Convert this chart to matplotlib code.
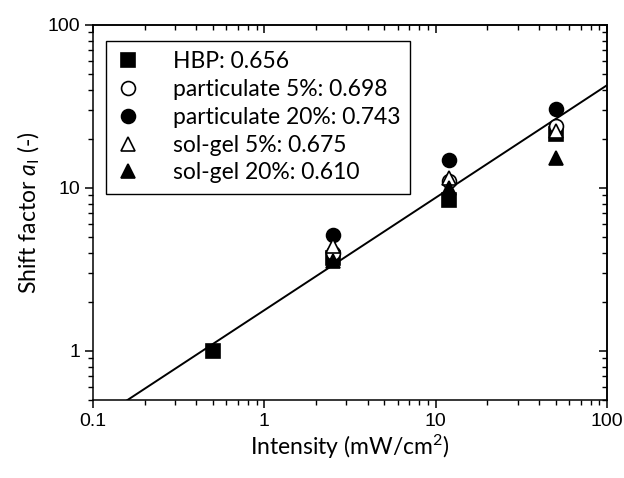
import matplotlib
matplotlib.use("Agg")
import matplotlib.pyplot as plt
import numpy as np

# ---- data ----
intensity = [0.5, 2.5, 12, 50]
hbp = [1.0, 3.7, 8.4, 21.4]
part5 = [None, 4.0, 11.0, 24.0]
part20 = [None, 5.15, 14.9, 30.4]
solgel5 = [None, 4.4, 11.5, 22.4]
solgel20 = [None, 3.57, 10.0, 15.3]
series_labels = ["HBP: 0.656", "particulate 5%: 0.698", "particulate 20%: 0.743",
                 "sol-gel 5%: 0.675", "sol-gel 20%: 0.610"]
fit_a = 1.78
fit_b = 0.69
x_ticks = [0.1, 1, 10, 100]
x_ticklabels = ["0.1", "1", "10", "100"]
y_ticks = [1, 10, 100]
y_ticklabels = ["1", "10", "100"]

plt.rcParams['mathtext.fontset'] = 'custom'
plt.rcParams['mathtext.rm'] = 'Lato'
plt.rcParams['mathtext.it'] = 'Lato:italic'

fig = plt.figure(figsize=(6.24, 4.78), dpi=100)
ax = fig.add_axes([0.149, 0.163, 0.824, 0.785])
ax.set_xscale('log')
ax.set_yscale('log')
ax.set_xlim(0.1, 100)
ax.set_ylim(0.5, 100)

def pts(ys):
    xs = [x for x, y in zip(intensity, ys) if y is not None]
    yv = [y for y in ys if y is not None]
    return xs, yv

# fit line
xf = np.logspace(-1, 2, 200)
ax.plot(xf, fit_a * xf ** fit_b, color='black', lw=1.4, zorder=1)

ms = 9.5
mew = 1.2
styles = [
    (hbp, 's', 'black'),
    (part5, 'o', 'white'),
    (part20, 'o', 'black'),
    (solgel5, '^', 'white'),
    (solgel20, '^', 'black'),
]
for (ys, m, fc), lab in zip(styles, series_labels):
    xs, yv = pts(ys)
    ax.plot(xs, yv, linestyle='none', marker=m, markersize=ms if m != 'o' else ms + 0.5,
            markerfacecolor=fc, markeredgecolor='black', markeredgewidth=mew,
            label=lab, zorder=3)

ax.set_xticks(x_ticks)
ax.set_xticklabels(x_ticklabels, fontfamily='Liberation Sans', fontsize=14)
ax.set_yticks(y_ticks)
ax.set_yticklabels(y_ticklabels, fontfamily='Liberation Sans', fontsize=14)
ax.tick_params(which='major', direction='out', length=6, width=1.1, pad=3,
               top=False, right=False)
ax.tick_params(which='minor', direction='out', length=3.5, width=1.0,
               top=False, right=False)
ax.xaxis.set_minor_formatter(matplotlib.ticker.NullFormatter())
ax.yaxis.set_minor_formatter(matplotlib.ticker.NullFormatter())
for s in ax.spines.values():
    s.set_linewidth(1.1)

# top and right ticks pointing inward
secx = ax.secondary_xaxis('top')
secx.set_xticks(x_ticks)
secx.tick_params(which='major', direction='in', length=6, width=1.1, labeltop=False)
secx.tick_params(which='minor', direction='in', length=3.5, width=1.0)
secx.xaxis.set_minor_formatter(matplotlib.ticker.NullFormatter())
secx.spines['top'].set_linewidth(1.1)
secy = ax.secondary_yaxis('right')
secy.set_yticks(y_ticks)
secy.tick_params(which='major', direction='in', length=6, width=1.1, labelright=False)
secy.tick_params(which='minor', direction='in', length=3.5, width=1.0)
secy.yaxis.set_minor_formatter(matplotlib.ticker.NullFormatter())
secy.spines['right'].set_linewidth(1.1)

ax.set_xlabel("Intensity (mW/cm$^2$)", fontfamily='Lato', fontsize=16.5, labelpad=2)
ax.set_ylabel("Shift factor $a_\\mathrm{I}$ (-)", fontfamily='Lato', fontsize=16.5, labelpad=4)

leg = ax.legend(loc='upper left', bbox_to_anchor=(0.0255, 0.958), frameon=True,
                fancybox=False, edgecolor='black', framealpha=1,
                prop={'family': 'Lato', 'size': 16.5}, handletextpad=1.4,
                labelspacing=0.3, borderpad=0.45, handlelength=1.05, borderaxespad=0)
leg.get_frame().set_linewidth(1.0)

fig.savefig("out.png", dpi=100)
